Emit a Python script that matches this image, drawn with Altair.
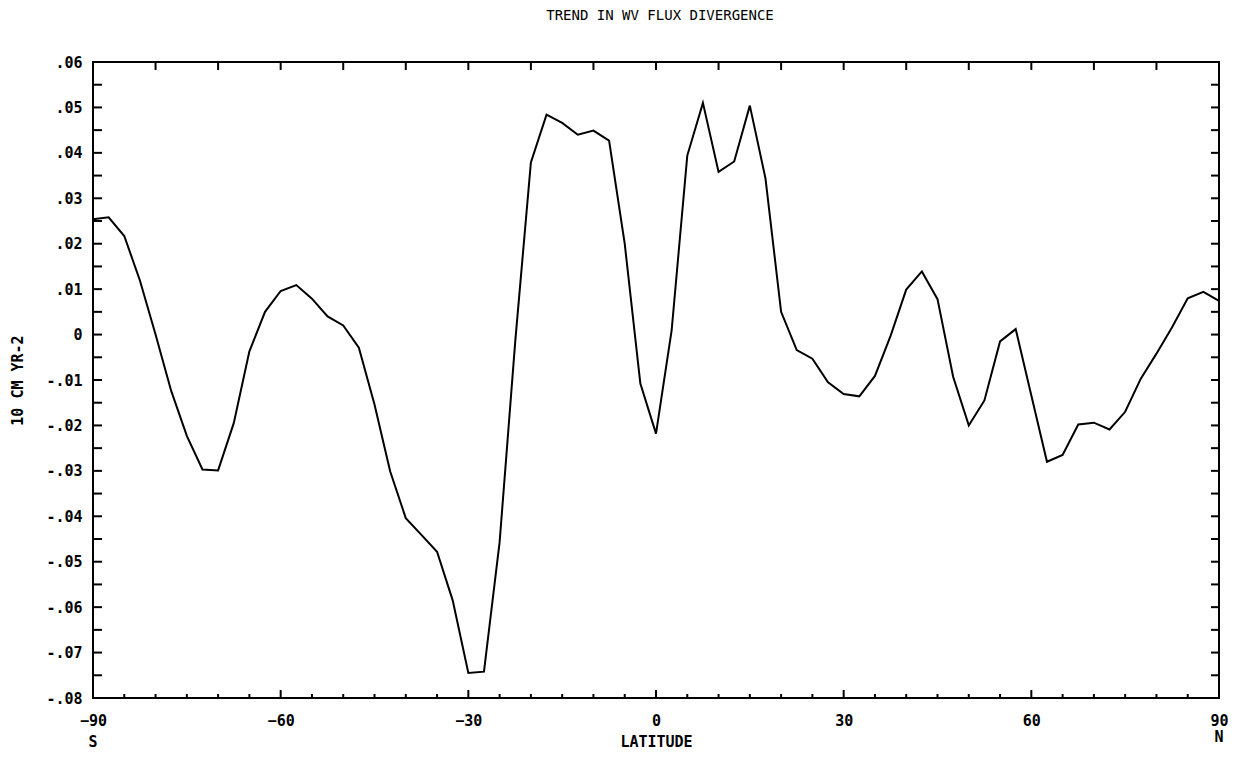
import json
import altair as alt
import pandas as pd

# ---------------- data ----------------
latitude = [-90, -87.5, -85, -82.5, -80, -77.5, -75, -72.5, -70, -67.5, -65, -62.5,
            -60, -57.5, -55, -52.5, -50, -47.5, -45, -42.5, -40, -37.5, -35, -32.5,
            -30, -27.5, -25, -22.5, -20, -17.5, -15, -12.5, -10, -7.5, -5, -2.5,
            0, 2.5, 5, 7.5, 10, 12.5, 15, 17.5, 20, 22.5, 25, 27.5,
            30, 32.5, 35, 37.5, 40, 42.5, 45, 47.5, 50, 52.5, 55, 57.5,
            60, 62.5, 65, 67.5, 70, 72.5, 75, 77.5, 80, 82.5, 85, 87.5, 90]

trend = [0.0254, 0.0258, 0.0217, 0.0119, 0.0000, -0.0124, -0.0223, -0.0297, -0.0299, -0.0195, -0.0037, 0.0050,
         0.0096, 0.0109, 0.0079, 0.0040, 0.0020, -0.0029, -0.0154, -0.0301, -0.0404, -0.0441, -0.0478, -0.0585,
         -0.0745, -0.0742, -0.0457, -0.0015, 0.0379, 0.0484, 0.0466, 0.0440, 0.0449, 0.0427, 0.0200, -0.0108,
         -0.0218, 0.0009, 0.0394, 0.0510, 0.0358, 0.0381, 0.0504, 0.0344, 0.0050, -0.0034, -0.0053, -0.0105,
         -0.0131, -0.0136, -0.0091, -0.0003, 0.0099, 0.0139, 0.0078, -0.0093, -0.0200, -0.0145, -0.0015, 0.0012,
         -0.0134, -0.0280, -0.0265, -0.0198, -0.0194, -0.0209, -0.0170, -0.0097, -0.0042, 0.0016, 0.0080, 0.0094, 0.0074]

x_label_values = [-90, -60, -30, 0, 30, 60, 90]
y_label_values = [0.06, 0.05, 0.04, 0.03, 0.02, 0.01, 0.0, -0.01, -0.02, -0.03, -0.04, -0.05, -0.06, -0.07, -0.08]
y_label_text = [".06", ".05", ".04", ".03", ".02", ".01", "0", "-.01", "-.02", "-.03", "-.04", "-.05", "-.06", "-.07", "-.08"]

bottom_minor_ticks = [-85, -80, -75, -70, -65, -55, -50, -45, -40, -35, -25, -20, -15, -10, -5,
                      5, 10, 15, 20, 25, 35, 40, 45, 50, 55, 65, 70, 75, 80, 85]
bottom_major_ticks = [-60, -30, 0, 30, 60]
top_ticks = [-80, -70, -60, -50, -40, -30, -20, -10, 0, 10, 20, 30, 40, 50, 60, 70, 80]
y_ticks = [0.055, 0.05, 0.045, 0.04, 0.035, 0.03, 0.025, 0.02, 0.015, 0.01, 0.005, 0.0,
           -0.005, -0.01, -0.015, -0.02, -0.025, -0.03, -0.035, -0.04, -0.045, -0.05,
           -0.055, -0.06, -0.065, -0.07, -0.075]

pole_lat = [-90, 90]
pole_text = ["S", "N"]

title_text = "TREND IN WV FLUX DIVERGENCE"
x_title = "LATITUDE"
y_title = "10 CM YR-2"

# ---------------- layout ----------------
W, H = 1126, 636
FONT = "DejaVu Sans Mono"

# label lookup keyed by value in hundredths (ASCII keys, avoids d3's unicode minus)
label_map = {str(int(round(v * 100))): t for v, t in zip(y_label_values, y_label_text)}
y_label_expr = json.dumps(label_map) + "[round(datum.value * 100)]"

xs = alt.Scale(domain=[-90, 90], nice=False, zero=False)
ys = alt.Scale(domain=[-0.08, 0.06], nice=False, zero=False)

df = pd.DataFrame({"lat": latitude, "v": trend})

line = alt.Chart(df).mark_line(color="black", strokeWidth=2).encode(
    x=alt.X("lat:Q", scale=xs,
            axis=alt.Axis(values=x_label_values, ticks=False, tickSize=0, domain=False, grid=False,
                          labelFont=FONT, labelFontSize=15, labelFontWeight="bold", labelColor="black",
                          labelPadding=15, labelFlush=False, labelOverlap=False,
                          title=x_title, titleFont=FONT, titleFontSize=15, titleFontWeight="bold",
                          titleColor="black", titlePadding=6)),
    y=alt.Y("v:Q", scale=ys,
            axis=alt.Axis(values=y_label_values, ticks=False, tickSize=0, domain=False, grid=False,
                          labelExpr=y_label_expr,
                          labelFont=FONT, labelFontSize=15, labelFontWeight="bold", labelColor="black",
                          labelPadding=11, labelFlush=False, labelOverlap=False,
                          title=y_title, titleFont=FONT, titleFontSize=15, titleFontWeight="bold",
                          titleColor="black", titlePadding=20)),
)

def xticks(values, y0, y1):
    return alt.Chart(pd.DataFrame({"lat": values})).mark_rule(color="black", strokeWidth=2).encode(
        x=alt.X("lat:Q", scale=xs), y=alt.value(y0), y2=alt.value(y1))

def yticks(values, x0, x1):
    return alt.Chart(pd.DataFrame({"v": values})).mark_rule(color="black", strokeWidth=2).encode(
        y=alt.Y("v:Q", scale=ys), x=alt.value(x0), x2=alt.value(x1))

t_bottom_minor = xticks(bottom_minor_ticks, H, H - 4)
t_bottom_major = xticks(bottom_major_ticks, H, H - 8)
t_top = xticks(top_ticks, 0, 8)
t_left = yticks(y_ticks, 0, 9)
t_right = yticks(y_ticks, W - 8, W)

poles = pd.DataFrame({"lat": pole_lat, "txt": pole_text})
s_text = alt.Chart(poles[poles.txt == "S"]).mark_text(
    font=FONT, fontSize=15, fontWeight="bold", color="black", baseline="middle").encode(
    x=alt.X("lat:Q", scale=xs), y=alt.value(H + 44), text="txt:N")
n_text = alt.Chart(poles[poles.txt == "N"]).mark_text(
    font=FONT, fontSize=15, fontWeight="bold", color="black", baseline="middle").encode(
    x=alt.X("lat:Q", scale=xs), y=alt.value(H + 39), text="txt:N")

chart = alt.layer(line, t_bottom_minor, t_bottom_major, t_top, t_left, t_right, s_text, n_text).properties(
    width=W, height=H,
    background="white",
    title=alt.TitleParams(text=title_text, font=FONT, fontSize=14, fontWeight="normal", color="black",
                          anchor="middle", offset=32, dx=4),
    padding={"left": 85, "top": 54, "right": 13, "bottom": 53},
    autosize=alt.AutoSizeParams(type="none"),
).configure_view(stroke="black", strokeWidth=2)

chart.save("out.html", embed_options={"renderer": "svg", "actions": False})
